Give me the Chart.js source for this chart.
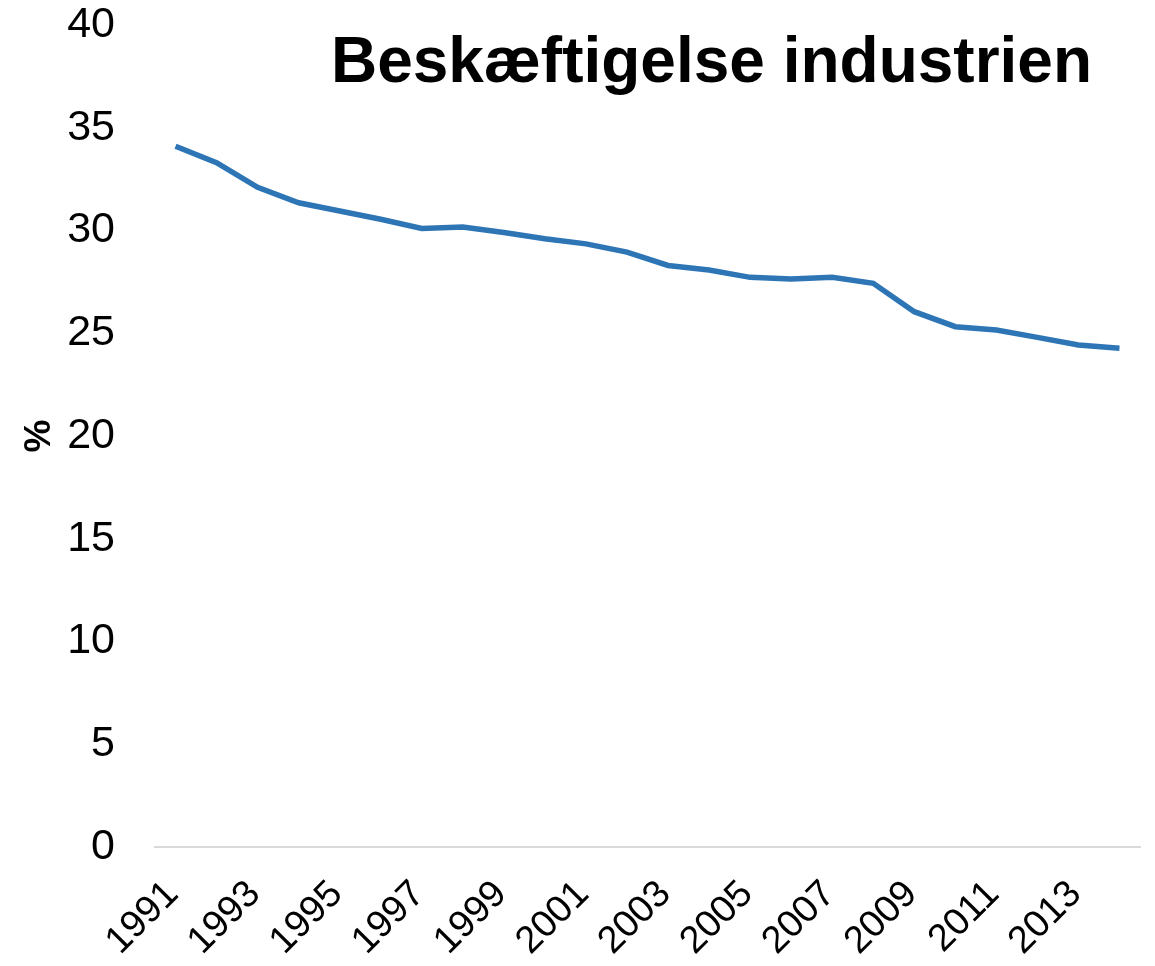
<!DOCTYPE html>
<html>
<head>
<meta charset="utf-8">
<script src="https://cdn.jsdelivr.net/npm/chart.js@4.4.1/dist/chart.umd.min.js"></script>
<style>
  html, body { margin: 0; padding: 0; background: #ffffff; }
  #wrap { width: 1155px; height: 966px; position: relative; }
</style>
</head>
<body>
<div id="wrap"><canvas id="c" width="1155" height="966"></canvas></div>
<script>
const years = ['1991','1992','1993','1994','1995','1996','1997','1998','1999','2000','2001','2002','2003','2004','2005','2006','2007','2008','2009','2010','2011','2012','2013','2014'];
const employmentShare = [34.1,33.3,32.1,31.35,30.95,30.55,30.1,30.17,29.9,29.6,29.35,28.95,28.3,28.08,27.72,27.64,27.72,27.43,26.05,25.32,25.16,24.8,24.43,24.27];
const titleText = 'Beskæftigelse industrien';
const yAxisTitle = '%';

const FONT = '"Liberation Sans", Arial, sans-serif';

const titlePlugin = {
  id: 'overlayTitle',
  afterDraw(chart) {
    const ctx = chart.ctx;
    ctx.save();
    ctx.font = 'bold 64px ' + FONT;
    ctx.fillStyle = '#000000';
    ctx.textAlign = 'right';
    ctx.textBaseline = 'alphabetic';
    ctx.fillText(titleText, chart.chartArea.right - 48, 82);
    ctx.restore();
  }
};

new Chart(document.getElementById('c'), {
  type: 'line',
  data: {
    labels: years,
    datasets: [{
      data: employmentShare,
      borderColor: '#2E75B6',
      borderWidth: 5.5,
      pointRadius: 0,
      tension: 0,
      fill: false,
      clip: false
    }]
  },
  options: {
    responsive: false,
    animation: false,
    layout: { padding: { left: 0, right: 15, top: 25, bottom: 0 } },
    plugins: {
      legend: { display: false },
      tooltip: { enabled: false },
      title: { display: false }
    },
    scales: {
      x: {
        offset: true,
        grid: { display: false, drawTicks: false },
        border: { display: true, color: '#d9d9d9', width: 2 },
        afterFit(scale) {
          scale.height = 119;
          scale.paddingLeft = 0;
          scale.paddingRight = 0;
        },
        ticks: {
          autoSkip: false,
          maxRotation: 45,
          minRotation: 45,
          padding: 25,
          labelOffset: -3,
          color: '#000000',
          font: { family: FONT, size: 38 },
          callback: function(value, index) { return index % 2 === 0 ? this.getLabelForValue(value) : ''; }
        }
      },
      y: {
        min: 0,
        max: 40,
        grid: { display: false, drawTicks: false },
        border: { display: false },
        afterFit(scale) {
          scale.width = 155;
          scale.paddingTop = 0;
          scale.paddingBottom = 0;
        },
        ticks: {
          stepSize: 5,
          padding: 40,
          color: '#000000',
          font: { family: FONT, size: 43 }
        },
        title: {
          display: true,
          text: yAxisTitle,
          color: '#000000',
          font: { family: FONT, size: 37, weight: 'bold' },
          padding: { top: 18, bottom: 4 }
        }
      }
    }
  },
  plugins: [titlePlugin]
});
</script>
</body>
</html>
